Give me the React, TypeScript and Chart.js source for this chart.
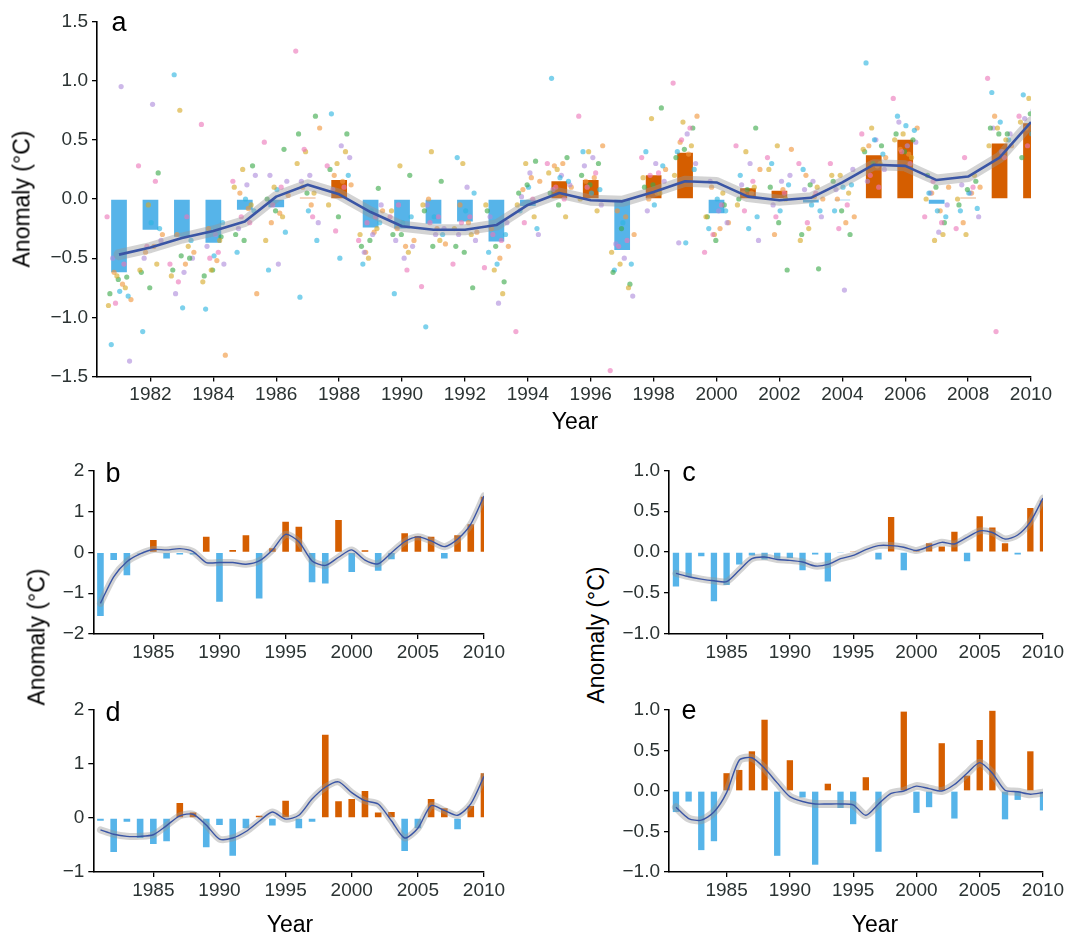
import React, { useEffect, useRef } from "react";
import { Chart, registerables } from "chart.js";

Chart.register(...registerables);

const FONT = "'Liberation Sans', Arial, Helvetica, sans-serif";
Chart.defaults.font.family = FONT;

// ---------------- DATA ----------------
const years = [
  1981, 1982, 1983, 1984, 1985, 1986, 1987, 1988, 1989, 1990,
  1991, 1992, 1993, 1994, 1995, 1996, 1997, 1998, 1999, 2000,
  2001, 2002, 2003, 2004, 2005, 2006, 2007, 2008, 2009, 2010,
];

// Panel a: annual mean anomaly (bars) and smoothed trend
const barsA = [
  -0.62, -0.26, -0.32, -0.37, -0.09, -0.07, 0.01, 0.16, -0.24, -0.25,
  -0.21, -0.19, -0.36, -0.06, 0.15, 0.16, -0.43, 0.2, 0.39, -0.12,
  0.09, 0.07, -0.03, -0.01, 0.37, 0.5, -0.04, 0.01, 0.47, 0.64,
];
const smoothA = [
  -0.47, -0.41, -0.33, -0.27, -0.19, 0.02, 0.12, 0.04, -0.11, -0.23,
  -0.26, -0.26, -0.22, -0.05, 0.05, -0.01, -0.02, 0.06, 0.15, 0.14,
  0.02, -0.01, 0.01, 0.14, 0.29, 0.28, 0.16, 0.19, 0.35, 0.65,
];

// Panel a: individual station anomalies, one row per year (colour groups cycle in sixes)
const stationAnomaliesA = [
  [-0.15, -0.65, -0.66, -1.23, 0.95, -0.85, -0.88, -0.75, -0.8, -0.78, -1.37, -0.62, -0.55, -0.9, -0.68, -0.82, -0.5, -0.72],
  [0.28, -0.05, 0.22, -1.12, 0.8, -0.3, -0.4, -0.55, -0.62, -0.2, -0.35, -0.45, 0.15, -0.6, -0.75, -0.25, -0.5, -0.4],
  [-0.55, 0.75, -0.5, 1.05, -0.62, -0.45, -0.7, -0.4, -0.6, -0.92, -0.5, -0.3, -0.15, -0.65, -0.48, -0.35, -0.8, -0.55],
  [0.63, -0.6, -0.32, -0.93, -0.3, -1.32, -0.5, -0.35, -0.65, -0.48, -0.55, -0.25, -0.45, -0.7, -0.6, -0.2, -0.4, -0.52],
  [0.15, 0.25, 0.28, -0.45, 0.12, -0.8, -0.15, -0.05, -0.3, 0.0, 0.2, 0.05, -0.2, 0.1, -0.35, -0.1, -0.25, -0.08],
  [0.48, 0.1, 0.42, -0.6, -0.55, 0.03, -0.05, -0.15, 0.0, 0.08, 0.15, -0.2, 0.1, -0.35, -0.1, -0.28, 0.2, -0.12],
  [1.25, 0.4, 0.7, -0.83, 0.2, 0.6, 0.42, 0.05, 0.55, -0.1, -0.2, 0.1, -0.15, 0.3, 0.05, -0.35, 0.15, -0.05],
  [0.28, 0.3, 0.55, 0.72, 0.45, 0.12, -0.27, 0.4, 0.25, -0.5, 0.35, 0.2, 0.1, -0.05, -0.15, 0.2, 0.08, 0.15],
  [-0.35, -0.5, 0.09, -0.55, -0.3, -0.1, -0.2, -0.25, -0.4, -0.1, -0.05, -0.45, -0.15, -0.3, -0.35, -0.2, -0.45, -0.28],
  [-0.15, 0.28, 0.2, -0.8, -0.5, -0.35, -0.05, -0.45, -0.3, -0.2, -0.4, -0.25, -0.6, -0.1, -0.3, -0.15, -0.35, -0.4],
  [-0.74, 0.4, 0.15, -1.08, -0.3, -0.38, -0.2, -0.35, -0.1, -0.15, -0.25, 0.0, -0.15, -0.05, -0.4, -0.3, -0.05, -0.25],
  [-0.55, 0.3, -0.75, 0.35, 0.1, -0.28, -0.2, -0.3, -0.4, -0.1, -0.35, -0.05, -0.15, -0.25, -0.45, 0.05, -0.3, -0.2],
  [-0.58, -0.6, -0.7, -0.45, -0.88, -0.4, -0.3, -0.8, -0.1, -0.55, -0.2, -0.25, -0.35, -0.05, -0.4, -0.3, -0.15, -0.5],
  [-1.12, 0.3, 0.32, -0.1, 0.22, 0.15, -0.2, -0.15, 0.05, 0.1, -0.3, 0.08, 0.0, -0.05, 0.12, -0.25, 0.02, 0.18],
  [0.3, 0.25, 0.35, 1.02, 0.2, 0.1, 0.1, -0.15, 0.05, 0.18, 0.12, 0.28, 0.0, 0.22, -0.05, 0.15, 0.08, 0.3],
  [0.7, 0.4, 0.3, 0.4, 0.35, 0.45, 0.1, -0.1, 0.2, 0.05, -0.05, 0.15, 0.22, 0.0, 0.12, 0.08, 0.28, 0.18],
  [-1.45, -0.55, -0.72, -0.6, -0.5, -0.3, -0.4, -0.75, -0.62, -0.2, -0.82, -0.1, -0.35, -0.45, -0.25, -0.55, -0.38, -0.15],
  [0.35, 0.68, 0.77, 0.4, 0.3, 0.25, 0.2, 0.05, 0.1, -0.05, 0.15, 0.0, 0.22, 0.18, 0.12, 0.28, -0.1, 0.05],
  [0.98, 0.65, 0.6, 0.4, 0.55, 0.7, 0.5, 0.45, 0.35, -0.37, 0.3, 0.48, 0.6, 0.2, 0.42, 0.25, -0.37, 0.38],
  [-0.45, -0.3, -0.05, -0.25, -0.1, -0.2, -0.3, 0.05, -0.15, 0.0, -0.2, 0.1, -0.05, -0.15, -0.35, -0.1, 0.15, -0.25],
  [0.45, 0.4, 0.6, 0.2, 0.3, 0.25, -0.1, 0.1, 0.0, -0.25, -0.35, 0.05, 0.15, -0.05, 0.08, -0.15, 0.12, 0.05],
  [0.35, 0.45, -0.6, 0.3, 0.15, 0.42, -0.15, 0.0, 0.1, -0.1, 0.2, -0.3, 0.05, 0.25, -0.2, 0.12, -0.05, 0.08],
  [0.3, -0.25, -0.59, 0.25, 0.15, 0.0, -0.2, 0.1, -0.3, -0.05, -0.15, 0.2, 0.05, -0.35, 0.12, -0.1, 0.08, 0.02],
  [0.3, 0.2, -0.3, -0.1, -0.77, -0.15, -0.25, 0.05, 0.15, 0.1, 0.25, 0.0, -0.05, 0.2, -0.1, 0.12, 0.08, -0.2],
  [0.55, 0.6, 0.45, 1.15, 0.5, 0.35, 0.2, 0.3, 0.4, 0.5, 0.25, 0.45, 0.1, 0.42, 0.3, 0.38, 0.15, 0.28],
  [0.85, 0.55, 0.5, 0.7, 0.45, 0.6, 0.4, 0.35, 0.55, 0.62, 0.48, 0.42, 0.3, 0.5, 0.4, 0.58, 0.65, 0.38],
  [-0.15, -0.35, -0.2, 0.05, -0.28, 0.1, 0.15, -0.3, 0.2, -0.1, -0.05, 0.05, -0.2, 0.0, 0.1, -0.15, 0.05, -0.1],
  [-0.25, -0.3, 0.15, -0.1, 0.05, 0.1, 0.35, 0.2, -0.05, 0.05, -0.15, -0.2, 0.1, 0.0, 0.08, -0.08, 0.12, 0.05],
  [1.02, 0.6, 0.55, 0.9, 0.4, 0.45, -1.12, 0.5, 0.6, 0.65, 0.55, 0.7, 0.35, 0.45, 0.55, 0.5, 0.6, 0.4],
  [0.7, 0.85, 0.8, 0.88, 0.75, 0.62, 0.45, 0.8, 0.35, 0.55, 0.7, 0.6, 0.5, 0.65, 0.72, 0.58, 0.68, 0.4],
];

// Panel b
const barsB = [
  -1.56, -0.19, -0.56, -0.03, 0.3, -0.15, -0.05, -0.05, 0.38, -1.21,
  0.06, 0.42, -1.13, 0.1, 0.75, 0.63, -0.73, -0.76, 0.79, -0.48,
  0.05, -0.45, -0.17, 0.47, 0.4, 0.38, -0.15, 0.42, 0.69, 1.36,
];
const smoothB = [
  -1.25, -0.6, -0.23, -0.04, 0.07, 0.06, 0.09, 0.02, -0.25, -0.25,
  -0.25, -0.29, -0.21, 0.06, 0.44, 0.26, -0.21, -0.32, -0.12, 0.06,
  -0.19, -0.28, -0.01, 0.26, 0.38, 0.28, 0.14, 0.32, 0.69, 1.38,
];

// Panel c
const barsC = [
  -0.42, -0.3, -0.05, -0.6, -0.4, -0.15, -0.04, -0.09, -0.08, -0.07,
  -0.22, -0.03, -0.36, -0.01, 0.01, 0.0, -0.09, 0.43, -0.22, 0.02,
  0.11, 0.07, 0.25, -0.11, 0.44, 0.3, 0.11, -0.03, 0.54, 0.63,
];
const smoothC = [
  -0.26, -0.3, -0.33, -0.35, -0.36, -0.22, -0.08, -0.06, -0.09, -0.1,
  -0.12, -0.17, -0.15, -0.08, -0.04, 0.03, 0.08, 0.08, 0.06, 0.02,
  0.07, 0.12, 0.1, 0.18, 0.26, 0.24, 0.16, 0.21, 0.37, 0.66,
];

// Panel d
const barsD = [
  -0.05, -0.63, -0.07, -0.37, -0.48, -0.43, 0.28, 0.1, -0.54, -0.13,
  -0.7, -0.19, 0.04, -0.14, 0.32, -0.19, -0.07, 1.54, 0.31, 0.35,
  0.5, 0.1, 0.11, -0.61, -0.19, 0.35, 0.18, -0.21, 0.22, 0.83,
];
const smoothD = [
  -0.22, -0.3, -0.34, -0.34, -0.31, -0.14, 0.04, 0.07, -0.13, -0.39,
  -0.37, -0.25, -0.06, 0.11, -0.02, 0.05, 0.35, 0.57, 0.67, 0.47,
  0.32, 0.26, -0.05, -0.37, -0.19, 0.23, 0.14, 0.05, 0.26, 0.77,
];

// Panel e
const barsE = [
  -0.26, -0.13, -0.73, -0.62, 0.22, 0.26, 0.49, 0.88, -0.8, 0.38,
  -0.08, -0.91, 0.09, -0.21, -0.41, 0.17, -0.75, 0.0, 0.98, -0.27,
  -0.2, 0.59, -0.34, 0.19, 0.63, 0.99, -0.35, -0.11, 0.49, -0.24,
];
const smoothE = [
  -0.2, -0.34, -0.36, -0.26, -0.02, 0.38, 0.41, 0.28, 0.1, -0.07,
  -0.13, -0.16, -0.16, -0.16, -0.17, -0.3, -0.16, -0.03, 0.0, 0.06,
  0.03, 0.0, 0.08, 0.22, 0.35, 0.22, 0.01, -0.01, -0.04, -0.02,
];

// Tick values
const xTicksA = [1982, 1984, 1986, 1988, 1990, 1992, 1994, 1996, 1998, 2000, 2002, 2004, 2006, 2008, 2010];
const xTicksSmall = [1985, 1990, 1995, 2000, 2005, 2010];
const yTicksA = [-1.5, -1.0, -0.5, 0.0, 0.5, 1.0, 1.5];
const yTicksB = [-2, -1, 0, 1, 2];
const yTicksD = [-1, 0, 1, 2];
const yTicksCE = [-1.0, -0.5, 0.0, 0.5, 1.0];

// ---------------- STYLE ----------------
const BLUE = "#56B4E9";
const ORANGE = "#D55E00";
const LINE = "#3A55A5";
const RIBBON = "rgba(150,150,150,0.42)";
const TICK_COLOR = "#2b3333";
const POINT_COLORS = [
  "rgba(236,120,185,0.62)",
  "rgba(214,170,40,0.62)",
  "rgba(60,170,75,0.62)",
  "rgba(45,180,225,0.62)",
  "rgba(175,140,220,0.62)",
  "rgba(240,150,60,0.62)",
];

const jitter = (j: number) => (((j * 7) % 18) / 17) * 0.76 - 0.38;

type Spec = {
  bars: number[];
  smooth: number[];
  points?: number[][];
  xMin: number;
  xTicks: number[];
  yMin: number;
  yMax: number;
  yTicks: number[];
  decimals: number;
  width: number;
  height: number;
  padTop: number;
  padRight: number;
  yAxisWidth: number;
  xAxisHeight: number;
  lineWidth: number;
  ribbonWidth: number;
  tension: number;
};

function fmt(v: number, d: number) {
  const s = Math.abs(v).toFixed(d);
  return v < -1e-9 ? "\u2212" + s : s;
}

function buildConfig(s: Spec): any {
  const datasets: any[] = [];
  datasets.push({
    type: "bar",
    data: years.map((yr, i) => ({ x: yr, y: s.bars[i] })),
    backgroundColor: s.bars.map((v) => (v >= 0 ? ORANGE : BLUE)),
    borderWidth: 0,
    barPercentage: 0.5,
    categoryPercentage: 1,
    order: 5,
  });
  if (s.points) {
    POINT_COLORS.forEach((c, k) => {
      const data: any[] = [];
      s.points!.forEach((row, i) =>
        row.forEach((v, j) => {
          if (j % 6 === k) data.push({ x: years[i] + jitter(j), y: v });
        })
      );
      datasets.push({
        type: "scatter",
        data,
        backgroundColor: c,
        borderWidth: 0,
        pointRadius: 2.6,
        order: 4,
      });
    });
  }
  datasets.push({
    type: "line",
    data: years.map((yr, i) => ({ x: yr, y: s.smooth[i] })),
    borderColor: RIBBON,
    borderWidth: s.ribbonWidth,
    pointRadius: 0,
    tension: s.tension,
    borderCapStyle: "round",
    borderJoinStyle: "round",
    fill: false,
    order: 2,
  });
  datasets.push({
    type: "line",
    data: years.map((yr, i) => ({ x: yr, y: s.smooth[i] })),
    borderColor: LINE,
    borderWidth: s.lineWidth,
    pointRadius: 0,
    tension: s.tension,
    borderJoinStyle: "round",
    fill: false,
    order: 1,
  });

  const gridOpts = {
    display: true,
    drawOnChartArea: false,
    drawTicks: true,
    tickLength: 5,
    color: "#000",
    tickColor: "#000",
    lineWidth: 1.3,
    offset: false,
  };
  const borderOpts = { display: true, color: "#000", width: 1.6 };

  return {
    type: "line",
    data: { datasets },
    options: {
      responsive: false,
      maintainAspectRatio: false,
      animation: false,
      devicePixelRatio: 1,
      events: [],
      layout: { padding: { left: 0, top: s.padTop, right: s.padRight, bottom: 0 } },
      plugins: { legend: { display: false }, tooltip: { enabled: false }, title: { display: false } },
      scales: {
        x: {
          type: "linear",
          min: s.xMin,
          max: 2010,
          offset: false,
          afterBuildTicks: (sc: any) => {
            sc.ticks = s.xTicks.map((v) => ({ value: v }));
          },
          afterFit: (sc: any) => {
            sc.height = s.xAxisHeight;
          },
          grid: gridOpts,
          border: borderOpts,
          ticks: {
            color: TICK_COLOR,
            font: { size: 19, family: FONT },
            padding: 2,
            maxRotation: 0,
            autoSkip: false,
            callback: (v: any) => String(v),
          },
        },
        y: {
          type: "linear",
          min: s.yMin,
          max: s.yMax,
          afterBuildTicks: (sc: any) => {
            sc.ticks = s.yTicks.map((v) => ({ value: v }));
          },
          afterFit: (sc: any) => {
            sc.width = s.yAxisWidth;
          },
          grid: gridOpts,
          border: borderOpts,
          ticks: {
            color: TICK_COLOR,
            font: { size: 19, family: FONT },
            padding: 4,
            autoSkip: false,
            callback: (v: any) => fmt(Number(v), s.decimals),
          },
        },
      },
    },
  };
}

// ---------------- PANELS ----------------
const specA: Spec = {
  bars: barsA, smooth: smoothA, points: stationAnomaliesA,
  xMin: 1980.3, xTicks: xTicksA, yMin: -1.5, yMax: 1.5, yTicks: yTicksA, decimals: 1,
  width: 1069, height: 440, padTop: 21.5, padRight: 38, yAxisWidth: 97, xAxisHeight: 63.5,
  lineWidth: 2.6, ribbonWidth: 11, tension: 0,
};
const specB: Spec = {
  bars: barsB, smooth: smoothB,
  xMin: 1980.46, xTicks: xTicksSmall, yMin: -2, yMax: 2, yTicks: yTicksB, decimals: 0,
  width: 470, height: 240, padTop: 30.7, padRight: 26, yAxisWidth: 53.3, xAxisHeight: 46,
  lineWidth: 1.4, ribbonWidth: 7, tension: 0.25,
};
const specC: Spec = {
  bars: barsC, smooth: smoothC,
  xMin: 1980.45, xTicks: xTicksSmall, yMin: -1, yMax: 1, yTicks: yTicksCE, decimals: 1,
  width: 449, height: 240, padTop: 30.3, padRight: 26, yAxisWidth: 49, xAxisHeight: 46,
  lineWidth: 1.4, ribbonWidth: 7, tension: 0.25,
};
const specD: Spec = {
  bars: barsD, smooth: smoothD,
  xMin: 1980.46, xTicks: xTicksSmall, yMin: -1, yMax: 2, yTicks: yTicksD, decimals: 0,
  width: 470, height: 255, padTop: 30, padRight: 26, yAxisWidth: 53.3, xAxisHeight: 63,
  lineWidth: 1.4, ribbonWidth: 7, tension: 0.25,
};
const specE: Spec = {
  bars: barsE, smooth: smoothE,
  xMin: 1980.45, xTicks: xTicksSmall, yMin: -1, yMax: 1, yTicks: yTicksCE, decimals: 1,
  width: 449, height: 255, padTop: 30, padRight: 26, yAxisWidth: 49, xAxisHeight: 63,
  lineWidth: 1.4, ribbonWidth: 8, tension: 0.25,
};

function Panel({ spec, left, top }: { spec: Spec; left: number; top: number }) {
  const ref = useRef<HTMLCanvasElement>(null);
  useEffect(() => {
    const chart = new Chart(ref.current as HTMLCanvasElement, buildConfig(spec));
    return () => chart.destroy();
  }, []);
  return (
    <canvas
      ref={ref}
      width={spec.width}
      height={spec.height}
      style={{ position: "absolute", left, top, width: spec.width, height: spec.height, display: "block" }}
    />
  );
}

function Txt({ x, y, size, rotate, children }: { x: number; y: number; size: number; rotate?: boolean; children: any }) {
  return (
    <div
      style={{
        position: "absolute",
        left: x,
        top: y,
        transform: `translate(-50%, -50%)${rotate ? " rotate(-90deg)" : ""}`,
        fontSize: size,
        lineHeight: 1,
        whiteSpace: "nowrap",
        fontFamily: FONT,
        color: "#000",
      }}
    >
      {children}
    </div>
  );
}

export default function App() {
  useEffect(() => {
    document.body.style.overflow = "hidden";
  }, []);
  return (
    <div style={{ position: "absolute", left: 0, top: 0, width: 1069, height: 935, overflow: "hidden", background: "#fff" }}>
      <Panel spec={specA} left={0} top={0} />
      <Panel spec={specB} left={40} top={440} />
      <Panel spec={specC} left={620} top={440} />
      <Panel spec={specD} left={40} top={680} />
      <Panel spec={specE} left={620} top={680} />

      <Txt x={22} y={199} size={23} rotate>Anomaly (°C)</Txt>
      <Txt x={575} y={421} size={23}>Year</Txt>
      <Txt x={37} y={637} size={23} rotate>Anomaly (°C)</Txt>
      <Txt x={596} y={635} size={23} rotate>Anomaly (°C)</Txt>
      <Txt x={290} y={924} size={23}>Year</Txt>
      <Txt x={875} y={924} size={23}>Year</Txt>

      <Txt x={119} y={22} size={27}>a</Txt>
      <Txt x={113} y={473} size={27}>b</Txt>
      <Txt x={689} y={472} size={27}>c</Txt>
      <Txt x={113} y={712} size={27}>d</Txt>
      <Txt x={689} y={710} size={27}>e</Txt>
    </div>
  );
}
